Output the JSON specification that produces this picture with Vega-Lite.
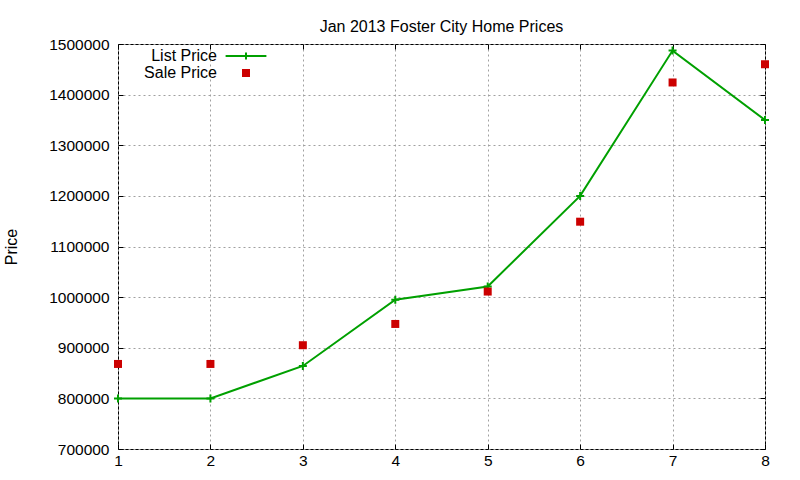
{
  "$schema": "https://vega.github.io/schema/vega-lite/v6.json",
  "autosize": {"type": "none"},
  "padding": {"left": 118, "top": 44, "right": 35, "bottom": 31},
  "width": 647,
  "height": 405,
  "background": "white",
  "title": {
    "text": "Jan 2013 Foster City Home Prices",
    "font": "Liberation Sans",
    "fontSize": 16,
    "fontWeight": "normal",
    "color": "black",
    "anchor": "middle",
    "baseline": "alphabetic",
    "offset": 14,
    "dy": 25
  },
  "data": {
    "values": [
      {"day": 1, "series": "List Price", "price": 800000},
      {"day": 2, "series": "List Price", "price": 800000},
      {"day": 3, "series": "List Price", "price": 864000},
      {"day": 4, "series": "List Price", "price": 995000},
      {"day": 5, "series": "List Price", "price": 1021000},
      {"day": 6, "series": "List Price", "price": 1200000},
      {"day": 7, "series": "List Price", "price": 1487000},
      {"day": 8, "series": "List Price", "price": 1350000},
      {"day": 1, "series": "Sale Price", "price": 868000},
      {"day": 2, "series": "Sale Price", "price": 868000},
      {"day": 3, "series": "Sale Price", "price": 905000},
      {"day": 4, "series": "Sale Price", "price": 947000},
      {"day": 5, "series": "Sale Price", "price": 1011000},
      {"day": 6, "series": "Sale Price", "price": 1149000},
      {"day": 7, "series": "Sale Price", "price": 1424000},
      {"day": 8, "series": "Sale Price", "price": 1460000}
    ]
  },
  "layer": [
    {
      "transform": [{"filter": "datum.series === 'List Price'"}],
      "mark": {"type": "line", "color": "#00a000", "strokeWidth": 2, "clip": false},
      "encoding": {
        "x": {
          "field": "day", "type": "quantitative",
          "scale": {"domain": [1, 8], "nice": false, "zero": false},
          "axis": {
            "values": [1, 2, 3, 4, 5, 6, 7, 8],
            "title": null,
            "grid": true,
            "gridDash": [2, 3],
            "gridColor": "#a0a0a0",
            "gridOpacity": 1,
            "domain": false,
            "tickColor": "black",
            "tickSize": -5,
            "labelPadding": 9,
            "labelFont": "Liberation Sans",
            "labelFontSize": 15.5,
            "labelColor": "black",
            "labelFlush": false
          }
        },
        "y": {
          "field": "price", "type": "quantitative",
          "scale": {"domain": [700000, 1500000], "nice": false, "zero": false},
          "axis": {
            "values": [700000, 800000, 900000, 1000000, 1100000, 1200000, 1300000, 1400000, 1500000],
            "format": "d",
            "title": "Price",
            "titleFont": "Liberation Sans",
            "titleFontSize": 16,
            "titleFontWeight": "normal",
            "titleColor": "black",
            "titlePadding": 29,
            "grid": true,
            "gridDash": [2, 3],
            "gridColor": "#a0a0a0",
            "gridOpacity": 1,
            "domain": false,
            "tickColor": "black",
            "tickSize": -5,
            "labelPadding": 14,
            "labelFont": "Liberation Sans",
            "labelFontSize": 15.5,
            "labelColor": "black",
            "labelFlush": false
          }
        }
      }
    },
    {
      "transform": [{"filter": "datum.series === 'List Price'"}],
      "mark": {"type": "point", "shape": "M-1,0H1M0,-1V1", "size": 64, "filled": false, "stroke": "#00a000", "strokeWidth": 2, "opacity": 1, "clip": false},
      "encoding": {
        "x": {
          "field": "day", "type": "quantitative",
          "axis": {"orient": "top", "labels": false, "grid": false, "domain": false, "title": null, "tickColor": "black", "tickSize": -5, "values": [1, 2, 3, 4, 5, 6, 7, 8]}
        },
        "y": {
          "field": "price", "type": "quantitative",
          "axis": {"orient": "right", "labels": false, "grid": false, "domain": false, "title": null, "tickColor": "black", "tickSize": -5, "values": [700000, 800000, 900000, 1000000, 1100000, 1200000, 1300000, 1400000, 1500000]}
        }
      }
    },
    {
      "transform": [{"filter": "datum.series === 'Sale Price'"}],
      "mark": {"type": "point", "shape": "square", "size": 64, "filled": true, "color": "#cc0000", "opacity": 1, "clip": false},
      "encoding": {
        "x": {"field": "day", "type": "quantitative", "axis": null},
        "y": {"field": "price", "type": "quantitative", "axis": null}
      }
    },
    {
      "transform": [{"filter": "datum.day > 100"}],
      "mark": {"type": "point", "filled": true, "size": 64, "strokeWidth": 2, "opacity": 1},
      "encoding": {
        "x": {"field": "day", "type": "quantitative", "axis": null},
        "y": {"field": "price", "type": "quantitative", "axis": null},
        "color": {
          "field": "series", "type": "nominal",
          "scale": {"domain": ["List Price", "Sale Price"], "range": ["#00a000", "#cc0000"]},
          "legend": {"title": null}
        },
        "stroke": {
          "field": "series", "type": "nominal",
          "scale": {"domain": ["List Price", "Sale Price"], "range": ["#00a000", "transparent"]},
          "legend": {"title": null}
        },
        "shape": {
          "field": "series", "type": "nominal",
          "scale": {"domain": ["List Price", "Sale Price"], "range": ["M-5.1,0H5.1M0,-0.9V0.9", "square"]},
          "legend": {"title": null}
        }
      }
    }
  ],
  "resolve": {"axis": {"x": "independent", "y": "independent"}},
  "config": {
    "view": {"stroke": "black", "strokeWidth": 1},
    "legend": {
      "orient": "none",
      "legendX": 120,
      "legendY": 4,
      "padding": 0,
      "rowPadding": 1,
      "symbolSize": 64,
      "symbolStrokeWidth": 2,
      "symbolOpacity": 1,
      "labelAlign": "right",
      "labelOffset": -37,
      "labelFont": "Liberation Sans",
      "labelFontSize": 16,
      "labelColor": "black"
    }
  }
}
